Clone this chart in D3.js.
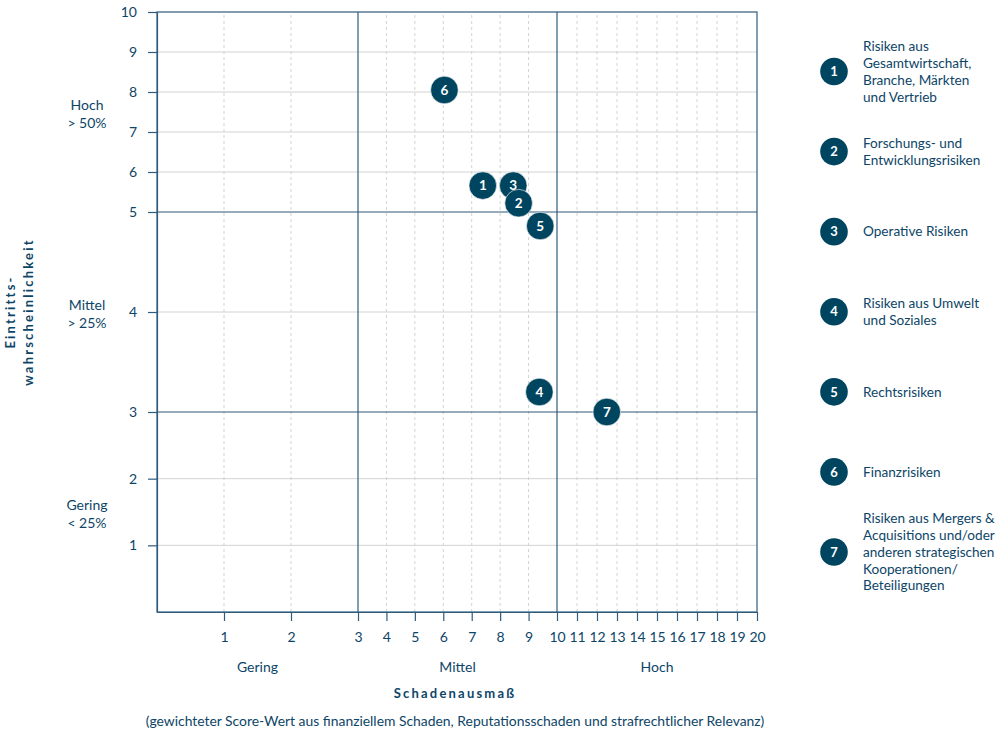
<!DOCTYPE html>
<html><head><meta charset="utf-8">
<script src="https://cdn.jsdelivr.net/npm/d3@7/dist/d3.min.js"></script>
<style>body{margin:0;background:#fff}svg{display:block;font-family:Lato,"Noto Sans",sans-serif}</style>
</head><body><svg id="c" width="1000" height="750"></svg>
<script>
const riskIds = [1,2,3,4,5,6,7];
const impactValues = [7.39, 8.65, 8.46, 9.38, 9.41, 6.04, 12.49];
const probabilityValues = [5.66, 5.22, 5.66, 3.2, 4.86, 8.05, 3.0];
const drawOrder = [6,1,3,2,5,4,7];
const legendLabels = [
  ["Risiken aus","Gesamtwirtschaft,","Branche, Märkten","und Vertrieb"],
  ["Forschungs- und","Entwicklungsrisiken"],
  ["Operative Risiken"],
  ["Risiken aus Umwelt","und Soziales"],
  ["Rechtsrisiken"],
  ["Finanzrisiken"],
  ["Risiken aus Mergers &","Acquisitions und/oder","anderen strategischen","Kooperationen/","Beteiligungen"]
];
const xTicks = [1,2,3,4,5,6,7,8,9,10,11,12,13,14,15,16,17,18,19,20];
const yTicks = [1,2,3,4,5,6,7,8,9,10];
const xBreaks = [3,10];
const yBreaks = [3,5];
const xBandLabels = [["Gering",1.5],["Mittel",6.5],["Hoch",15]];
const yBandLabels = [[["Hoch","> 50%"],7.5],[["Mittel","> 25%"],4],[["Gering","< 25%"],1.5]];
const xTitle = "Schadenausmaß";
const xSubtitle = "(gewichteter Score-Wert aus finanziellem Schaden, Reputationsschaden und strafrechtlicher Relevanz)";
const yTitle = ["Eintritts-","wahrscheinlichkeit"];

const TXT = "#0d4567", AX = "#2f5b7d", DOT = "#00455f", GRID = "#d3d3d3";
const svg = d3.select("#c");
const x = d3.scaleLinear().domain([0,3,10,20]).range([157,358,557,757]);
const y = d3.scaleLinear().domain([0,3,5,10]).range([612,412,212,12]);

// grid
svg.append("g").selectAll("line").data(yTicks.filter(d=>!yBreaks.includes(d)&&d!==10)).join("line")
  .attr("x1",x(0)).attr("x2",x(20)).attr("y1",d=>y(d)).attr("y2",d=>y(d))
  .attr("stroke",GRID).attr("stroke-width",1);
svg.append("g").selectAll("line").data(xTicks.filter(d=>!xBreaks.includes(d)&&d!==20)).join("line")
  .attr("y1",y(0)).attr("y2",y(10)).attr("x1",d=>x(d)).attr("x2",d=>x(d))
  .attr("stroke",GRID).attr("stroke-width",1).attr("stroke-dasharray","3,3");
// breaks
svg.append("g").selectAll("line").data(xBreaks).join("line")
  .attr("y1",y(0)).attr("y2",y(10)).attr("x1",d=>x(d)).attr("x2",d=>x(d))
  .attr("stroke",AX).attr("stroke-width",1.2);
svg.append("g").selectAll("line").data(yBreaks).join("line")
  .attr("x1",x(0)).attr("x2",x(20)).attr("y1",d=>y(d)).attr("y2",d=>y(d))
  .attr("stroke",AX).attr("stroke-width",1.2);
// border
svg.append("rect").attr("x",x(0)).attr("y",y(10)).attr("width",x(20)-x(0)).attr("height",y(0)-y(10))
  .attr("fill","none").attr("stroke",AX).attr("stroke-width",1.2);

// axes
const xAxis = svg.append("g").attr("transform",`translate(0,${y(0)})`)
  .call(d3.axisBottom(x).tickValues(xTicks).tickFormat(d3.format("d")).tickSize(9).tickPadding(11).tickSizeOuter(0));
const yAxis = svg.append("g").attr("transform",`translate(${x(0)},0)`)
  .call(d3.axisLeft(y).tickValues(yTicks).tickFormat(d3.format("d")).tickSize(9).tickPadding(11).tickSizeOuter(0));
[xAxis,yAxis].forEach(a=>{
  a.select(".domain").attr("stroke",AX).attr("stroke-width",1.2);
  a.selectAll(".tick line").attr("stroke",AX).attr("stroke-width",1.2);
  a.selectAll(".tick text").attr("fill",TXT).style("font-size","14px").style("font-family","Lato");
});

// band labels
svg.append("g").selectAll("text").data(xBandLabels).join("text")
  .attr("x",d=>x(d[1])).attr("y",672).attr("text-anchor","middle")
  .attr("fill",TXT).style("font-size","14px").text(d=>d[0]);
const yb = svg.append("g").selectAll("text").data(yBandLabels).join("text")
  .attr("text-anchor","middle").attr("fill",TXT).style("font-size","14px");
yb.each(function(d){
  const t = d3.select(this);
  const cy = y(d[1]);
  d[0].forEach((s,i)=>t.append("tspan").attr("x",87).attr("y",cy-2+i*17.5).text(s));
});

// titles
svg.append("text").attr("x",455).attr("y",698).attr("text-anchor","middle")
  .attr("fill",TXT).style("font-size","13px").style("font-weight","bold").style("letter-spacing","2.2px").text(xTitle);
svg.append("text").attr("x",455).attr("y",726).attr("text-anchor","middle")
  .attr("fill",TXT).style("font-size","13.9px").text(xSubtitle);
const yt = svg.append("text").attr("transform","translate(0,312) rotate(-90)").attr("text-anchor","middle")
  .attr("fill",TXT).style("font-size","13px").style("font-weight","bold").style("letter-spacing","2.2px");
yTitle.forEach((s,i)=>yt.append("tspan").attr("x",0).attr("y",15+i*18).text(s));

// points
const pts = drawOrder.map(id=>({id, xv: impactValues[id-1], yv: probabilityValues[id-1]}));
const pg = svg.append("g").selectAll("g").data(pts).join("g")
  .attr("transform",d=>`translate(${x(d.xv)},${y(d.yv)})`);
pg.append("circle").attr("r",13.8).attr("fill",DOT).attr("stroke","#fff").attr("stroke-width",0.6);
pg.append("text").attr("text-anchor","middle").attr("dy","0.36em").attr("fill","#fff")
  .style("font-size","13.5px").style("font-weight","bold").text(d=>d.id);

// legend
const ly = d3.scaleLinear().domain([1,7]).range([71.5,552]);
const lg = svg.append("g").selectAll("g").data(riskIds).join("g")
  .attr("transform",d=>`translate(0,${ly(d)})`);
lg.append("circle").attr("cx",834).attr("r",13.8).attr("fill",DOT);
lg.append("text").attr("x",834).attr("dy","0.36em").attr("text-anchor","middle").attr("fill","#fff")
  .style("font-size","13px").style("font-weight","bold").text(d=>d);
lg.append("text").attr("fill",TXT).style("font-size","13.6px").each(function(d){
  const lines = legendLabels[d-1];
  const lh = 16.8;
  const t = d3.select(this);
  lines.forEach((s,i)=>t.append("tspan").attr("x",863).attr("y",(i-(lines.length-1)/2)*lh+4.8).text(s));
});
</script></body></html>
